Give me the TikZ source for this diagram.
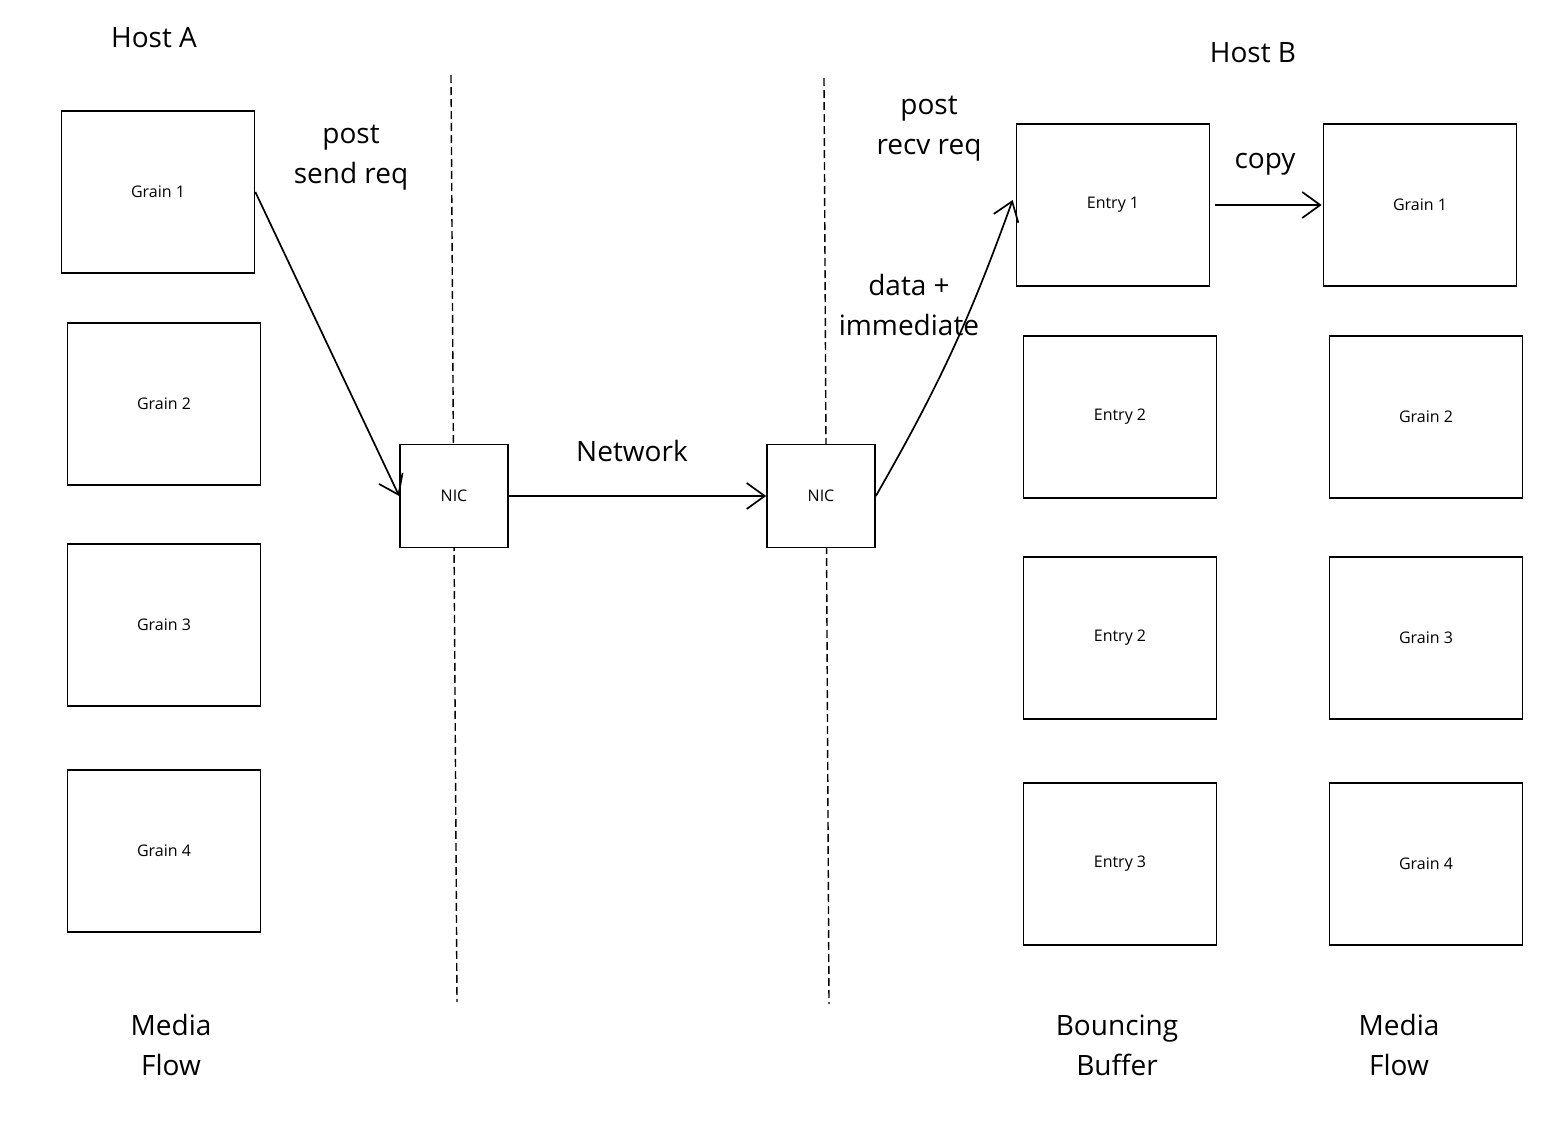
\documentclass[tikz,border=0pt]{standalone}
\usepackage{fontspec}
\setmainfont{Open Sans}
\usetikzlibrary{arrows.meta}
\begin{document}
\begin{tikzpicture}[x=1pt,y=-1pt,
  box/.style={draw, fill=white, line width=1.7pt, minimum width=193pt, minimum height=162pt, inner sep=0pt, font=\fontsize{16}{19}\selectfont},
  nic/.style={draw, fill=white, line width=1.7pt, minimum width=108pt, minimum height=103pt, inner sep=0pt, font=\fontsize{16}{19}\selectfont},
  lbl/.style={align=center, inner sep=0pt, font=\fontsize{28}{40}\selectfont},
  conn/.style={line width=1.7pt, -{Straight Barb[length=18pt,width=26pt,line width=1.7pt]}},
  sep/.style={line width=1.4pt, dash pattern=on 8pt off 4pt}]
\useasboundingbox (0,0) rectangle (1567,1133);
% separators (drawn first, behind the NICs)
\coordinate (sA1) at (451,75);
\coordinate (sA2) at (457,1002);
\coordinate (sB1) at (824,78);
\coordinate (sB2) at (829,1004);
\draw[sep] (sA1) -- (sA2);
\draw[sep] (sB1) -- (sB2);
% host A
\node[lbl] (hostA) at (154,38) {Host A};
\node[box] (gA1) at (158,192) {Grain 1};
\node[box] (gA2) at (164,404) {Grain 2};
\node[box] (gA3) at (164,625) {Grain 3};
\node[box] (gA4) at (164,851) {Grain 4};
\node[lbl] (mfA) at (171,1045) {Media\\Flow};
% NICs
\node[nic] (nicA) at (454,496) {NIC};
\node[nic] (nicB) at (821,496) {NIC};
% host B
\node[lbl] (hostB) at (1253,53) {Host B};
\node[box] (e1) at (1113,205) {Entry 1};
\node[box] (e2) at (1120,417) {Entry 2};
\node[box] (e2b) at (1120,638) {Entry 2};
\node[box] (e3) at (1120,864) {Entry 3};
\node[box] (gB1) at (1420,205) {Grain 1};
\node[box] (gB2) at (1426,417) {Grain 2};
\node[box] (gB3) at (1426,638) {Grain 3};
\node[box] (gB4) at (1426,864) {Grain 4};
\node[lbl] (bb) at (1117,1045) {Bouncing\\Buffer};
\node[lbl] (mfB) at (1399,1045) {Media\\Flow};
% labels
\node[lbl] (lsend) at (351,158) {post\\send req};
\node[lbl] (lnet) at (632,451) {Network};
\node[lbl] (lrecv) at (929,129) {post\\recv req};
\node[lbl] (ldata) at (909,305) {data +\\immediate};
\node[lbl] (lcopy) at (1265,164) {copy};
% connectors
\draw[conn] (gA1.east) -- (nicA.west);
\draw[conn] (nicA.east) -- (nicB.west);
\draw[conn] (nicB.east) to[bend right=5] ([xshift=-3pt,yshift=5pt]e1.west);
\draw[conn] ([xshift=5pt]e1.east) -- ([xshift=-1pt]gB1.west);
\end{tikzpicture}
\end{document}
